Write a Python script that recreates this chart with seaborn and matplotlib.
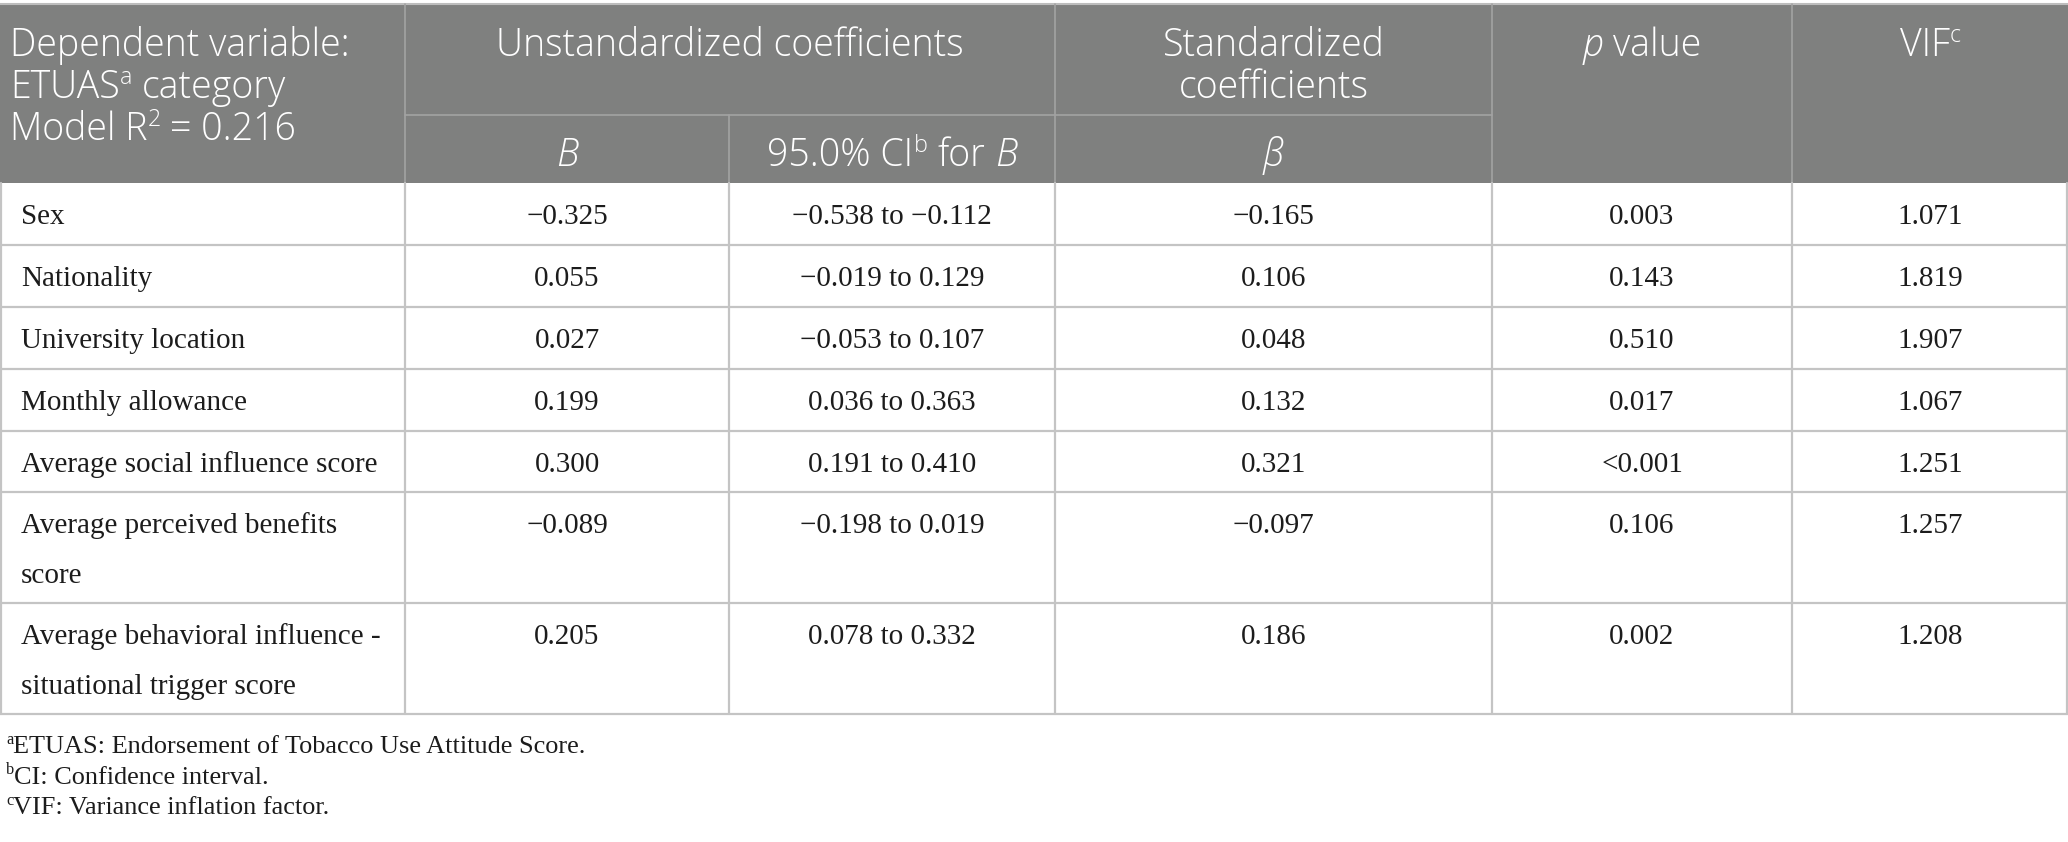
import pandas as pd
import matplotlib.pyplot as plt
import seaborn as sns

# table content
variables = ["Sex", "Nationality", "University location", "Monthly allowance",
             "Average social influence score",
             "Average perceived benefits\nscore",
             "Average behavioral influence -\nsituational trigger score"]
b_values = ["\u22120.325", "0.055", "0.027", "0.199", "0.300", "\u22120.089", "0.205"]
ci_values = ["\u22120.538 to \u22120.112", "\u22120.019 to 0.129", "\u22120.053 to 0.107",
             "0.036 to 0.363", "0.191 to 0.410", "\u22120.198 to 0.019", "0.078 to 0.332"]
beta_values = ["\u22120.165", "0.106", "0.048", "0.132", "0.321", "\u22120.097", "0.186"]
p_values = ["0.003", "0.143", "0.510", "0.017", "<0.001", "0.106", "0.002"]
vif_values = ["1.071", "1.819", "1.907", "1.067", "1.251", "1.257", "1.208"]
footnotes = [("a", "ETUAS: Endorsement of Tobacco Use Attitude Score."),
             ("b", "CI: Confidence interval."),
             ("c", "VIF: Variance inflation factor.")]

df = pd.DataFrame({"var": variables, "B": b_values, "CI": ci_values,
                   "beta": beta_values, "p": p_values, "VIF": vif_values})

sns.set_theme(style="white")
SANS = ["Open Sans", "DejaVu Sans"]
SERIF = ["Liberation Serif", "DejaVu Serif"]

W, H, DPI = 2068, 842, 100
fig = plt.figure(figsize=(W / DPI, H / DPI), dpi=DPI)
ax = fig.add_axes([0, 0, 1, 1])
ax.set_xlim(0, W)
ax.set_ylim(H, 0)
ax.axis("off")
renderer = fig.canvas.get_renderer()

col_edges = [0, 405, 729, 1055, 1492, 1792, 2068]
header_top, header_mid, header_bot = 4, 115, 183
row_edges = [183, 245, 307, 369, 431, 492, 603, 714]
HEAD_BG = "#7f807f"
HEAD_LINE = "#a3a3a3"
GRID = "#c4c4c4"
TXT = "#1c1c1c"


def text_width(s, size, family, style, weight="normal"):
    t = ax.text(0, 0, s, fontsize=size, family=family, style=style, weight=weight)
    w = t.get_window_extent(renderer).width
    t.remove()
    return w


def draw_runs(x, y, runs, size, family, color, ha="left", weight="normal"):
    # runs: (text, kind) with kind 'n' normal, 'i' italic, 's' superscript
    space = (text_width("a a", size, family, "normal", weight)
             - text_width("aa", size, family, "normal", weight))
    items = []
    for txt, kind in runs:
        fs = size * 0.62 if kind == "s" else size
        style = "italic" if kind == "i" else "normal"
        core = txt.strip(" ")
        lead = len(txt) - len(txt.lstrip(" "))
        trail = len(txt) - len(txt.rstrip(" "))
        w = text_width(core, fs, family, style, weight) if core else 0
        items.append((core, fs, style, kind, lead * space, w, trail * space))
    total = sum(a + w + c for _, _, _, _, a, w, c in items)
    cx = x - total / 2 if ha == "center" else x
    for core, fs, style, kind, lead, w, trail in items:
        cx += lead
        dy = -size * DPI / 72 * 0.36 if kind == "s" else 0
        if core:
            ax.text(cx, y + dy, core, fontsize=fs, family=family, style=style,
                    weight=weight, color=color, va="baseline", ha="left")
        cx += w + trail


# header background
ax.add_patch(plt.Rectangle((0, header_top), W, header_bot - header_top,
                           facecolor=HEAD_BG, edgecolor="none", zorder=0))
ax.plot([0, W], [header_top, header_top], color="#bdbdbd", lw=1.5, zorder=2)
for xe in [405, 1055, 1492, 1792]:
    ax.plot([xe, xe], [header_top, header_bot], color=HEAD_LINE, lw=1.2, zorder=2)
ax.plot([405, 1492], [header_mid, header_mid], color=HEAD_LINE, lw=1.2, zorder=2)
ax.plot([729, 729], [header_mid, header_bot], color=HEAD_LINE, lw=1.2, zorder=2)

HS = 27
HW = "light"
centers = [(col_edges[i] + col_edges[i + 1]) / 2 for i in range(6)]
draw_runs(10, 56, [("Dependent variable:", "n")], HS, SANS, "white", weight=HW)
draw_runs(10, 98, [("ETUAS", "n"), ("a", "s"), (" category", "n")], HS, SANS, "white", weight=HW)
draw_runs(10, 140, [("Model R", "n"), ("2", "s"), (" = 0.216", "n")], HS, SANS, "white", weight=HW)
draw_runs((405 + 1055) / 2, 56, [("Unstandardized coefficients", "n")], HS, SANS, "white", "center", HW)
draw_runs(centers[3], 56, [("Standardized", "n")], HS, SANS, "white", "center", HW)
draw_runs(centers[3], 98, [("coefficients", "n")], HS, SANS, "white", "center", HW)
draw_runs(centers[4], 56, [("p", "i"), (" value", "n")], HS, SANS, "white", "center", HW)
draw_runs(centers[5], 56, [("VIF", "n"), ("c", "s")], HS, SANS, "white", "center", HW)
draw_runs(centers[1], 166, [("B", "i")], HS, SANS, "white", "center", HW)
draw_runs(centers[2], 166, [("95.0% CI", "n"), ("b", "s"), (" for ", "n"), ("B", "i")],
          HS, SANS, "white", "center", HW)
draw_runs(centers[3], 166, [("\u03b2", "i")], HS, SANS, "white", "center", HW)

# body grid
for ye in row_edges[1:]:
    ax.plot([0, W], [ye, ye], color=GRID, lw=1.6, zorder=2)
for xe in col_edges:
    xx = min(max(xe, 0.8), W - 0.8)
    ax.plot([xx, xx], [row_edges[0], row_edges[-1]], color=GRID, lw=1.6, zorder=2)

BS = 21
for i, row in df.iterrows():
    base = row_edges[i] + 41
    for k, line in enumerate(row["var"].split("\n")):
        ax.text(21, base + 50 * k, line, fontsize=BS, family=SERIF, color=TXT,
                va="baseline", ha="left")
    for j, key in enumerate(["B", "CI", "beta", "p", "VIF"]):
        ax.text(centers[j + 1], base, row[key], fontsize=BS, family=SERIF, color=TXT,
                va="baseline", ha="center")

# footnotes
FS = 18.9
for k, (mark, note) in enumerate(footnotes):
    draw_runs(6, 753 + 30.5 * k, [(mark, "s"), (note, "n")], FS, SERIF, TXT)

fig.savefig("out.png", dpi=DPI, facecolor="white")
